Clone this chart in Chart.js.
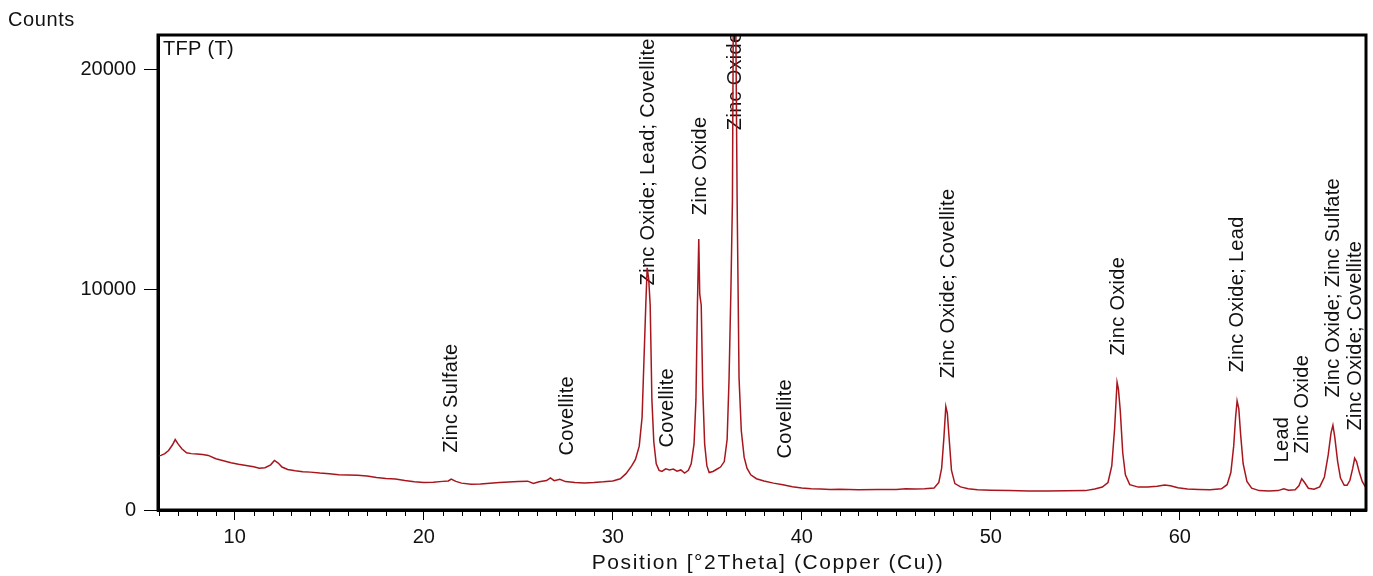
<!DOCTYPE html>
<html>
<head>
<meta charset="utf-8">
<title>TFP (T)</title>
<script src="https://cdn.jsdelivr.net/npm/chart.js@4/dist/chart.umd.min.js"></script>
<style>
html, body { margin: 0; padding: 0; background: #fff; }
</style>
</head>
<body>
<canvas id="xrd" width="1373" height="576"></canvas>
<script>
//SCAN DATA
var angle = [
    5.94, 6.1, 6.3, 6.5, 6.7, 6.85, 7.0, 7.2, 7.45, 7.7, 8.0, 8.3, 8.6, 9.0, 9.4, 9.8,
    10.2, 10.6, 11.0, 11.3, 11.6, 11.9, 12.1, 12.3, 12.5, 12.8, 13.2, 13.6, 14.0, 14.5,
    15.0, 15.5, 16.0, 16.5, 17.0, 17.5, 18.0, 18.5, 19.0, 19.5, 20.0, 20.5, 21.0, 21.3,
    21.45, 21.7, 22.0, 22.5, 23.0, 23.5, 24.0, 24.5, 25.0, 25.5, 25.8, 26.1, 26.5, 26.7,
    26.9, 27.2, 27.5, 28.0, 28.5, 29.0, 29.5, 30.0, 30.4, 30.7, 31.0, 31.2, 31.4, 31.55,
    31.65, 31.75, 31.82, 31.9, 31.98, 32.07, 32.17, 32.3, 32.45, 32.6, 32.8, 33.0, 33.2,
    33.4, 33.6, 33.8, 34.0, 34.15, 34.3, 34.4, 34.48, 34.55, 34.6, 34.68, 34.76, 34.86,
    34.98, 35.1, 35.3, 35.5, 35.7, 35.9, 36.05, 36.15, 36.25, 36.33, 36.38, 36.5, 36.58,
    36.68, 36.8, 36.95, 37.1, 37.3, 37.6, 38.0, 38.5, 39.0, 39.5, 40.0, 40.5, 41.0, 41.5,
    42.0, 43.0, 44.0, 45.0, 45.5, 46.0, 46.5, 47.0, 47.25, 47.4, 47.52, 47.62, 47.7, 47.8,
    47.92, 48.1, 48.4, 48.8, 49.3, 50.0, 51.0, 52.0, 53.0, 54.0, 55.0, 55.5, 55.9, 56.2,
    56.4, 56.55, 56.68, 56.75, 56.85, 56.98, 57.12, 57.35, 57.8, 58.3, 58.8, 59.2, 59.5,
    59.9, 60.4, 61.0, 61.6, 62.2, 62.5, 62.7, 62.85, 62.95, 63.03, 63.12, 63.22, 63.35,
    63.55, 63.8, 64.2, 64.7, 65.2, 65.5, 65.75, 66.1, 66.3, 66.45, 66.6, 66.8, 67.1, 67.4,
    67.65, 67.85, 68.0, 68.1, 68.2, 68.35, 68.5, 68.7, 68.85, 69.0, 69.15, 69.25, 69.35,
    69.5, 69.65, 69.85
];
var counts = [
    2450, 2480, 2560, 2700, 2950, 3200, 3000, 2780, 2600, 2560, 2540, 2520, 2480, 2330, 2240, 2150,
    2080, 2020, 1960, 1900, 1920, 2050, 2250, 2130, 1950, 1840, 1780, 1740, 1720, 1680,
    1650, 1600, 1590, 1580, 1540, 1480, 1430, 1410, 1340, 1280, 1250, 1260, 1300, 1320,
    1400, 1300, 1220, 1170, 1180, 1220, 1250, 1270, 1290, 1310, 1210, 1280, 1340, 1460,
    1330, 1390, 1290, 1250, 1230, 1250, 1280, 1320, 1420, 1650, 2000, 2300, 2900, 4200,
    6800, 9400, 11000, 10500, 9300, 5000, 3100, 2100, 1800, 1750, 1870, 1820, 1860,
    1760, 1820, 1680, 1800, 2100, 3000, 5000, 9400, 12300, 9800, 9300, 5500, 3000,
    2000, 1700, 1750, 1850, 1950, 2200, 3200, 5900, 10000, 14000, 23000, 23000, 14000,
    6000, 3600, 2400, 1900, 1600, 1420, 1320, 1220, 1150, 1060, 1000, 970, 950, 930,
    940, 920, 930, 930, 960, 950, 970, 1000, 1250, 1900, 3300, 4700, 4400, 3200,
    1800, 1200, 1050, 970, 920, 900, 880, 860, 860, 870, 880, 950, 1040, 1250,
    2000, 3700, 5800, 5500, 4500, 2600, 1600, 1150, 1040, 1040, 1080, 1130, 1100,
    1010, 950, 930, 920, 960, 1150, 1700, 2900, 4200, 4950, 4600, 3400, 2100,
    1300, 990, 880, 860, 880, 960, 900, 920, 1100, 1420, 1250, 990, 940, 1050,
    1500, 2500, 3500, 3850, 3300, 2200, 1450, 1120, 1120, 1350, 1900, 2350, 2200,
    1700, 1300, 1000
];

//PHASE LABELS
var peakAngle = [21.49, 27.58, 31.87, 32.87, 34.62, 36.47, 39.12, 47.75, 56.75, 63.06, 65.44, 66.5, 68.14, 69.3];
var peakBase = [2600, 2480, 10200, 2840, 13390, 17250, 2340, 5980, 7020, 6250, 2160, 2570, 5110, 3610];
var peakName = [
    'Zinc Sulfate', 'Covellite', 'Zinc Oxide; Lead; Covellite', 'Covellite', 'Zinc Oxide',
    'Zinc Oxide', 'Covellite', 'Zinc Oxide; Covellite', 'Zinc Oxide', 'Zinc Oxide; Lead',
    'Lead', 'Zinc Oxide', 'Zinc Oxide; Zinc Sulfate', 'Zinc Oxide; Covellite'
];

//AXES
var xTicks = [10, 20, 30, 40, 50, 60];
var yTicks = [0, 10000, 20000];
var xMin = 5.94, xMax = 69.85, yMax = 21570;
var xTitle = 'Position [°2Theta] (Copper (Cu))';

var fontFamily = '"Liberation Sans", Arial, sans-serif';
Chart.defaults.font.family = fontFamily;
Chart.defaults.font.size = 20;
Chart.defaults.color = '#111';

var scanPoints = [];
for (var i = 0; i < angle.length; i++) {
    scanPoints.push({x: angle[i], y: counts[i]});
}

var xrdDecor = {
    id: 'xrdDecor',
    beforeDatasetsDraw: function (chart) {
        var ctx = chart.ctx, a = chart.chartArea;
        var xs = chart.scales.x, ys = chart.scales.y;
        ctx.save();
        ctx.beginPath();
        ctx.rect(a.left, a.top, a.right - a.left, a.bottom - a.top);
        ctx.clip();
        ctx.font = '20px ' + fontFamily;
        ctx.fillStyle = '#111';
        ctx.textAlign = 'left';
        ctx.textBaseline = 'middle';
        ctx.letterSpacing = '0.3px';
        for (var i = 0; i < peakName.length; i++) {
            ctx.save();
            ctx.translate(xs.getPixelForValue(peakAngle[i]), ys.getPixelForValue(peakBase[i]));
            ctx.rotate(-Math.PI / 2);
            ctx.fillText(peakName[i], 0, 0);
            ctx.restore();
        }
        ctx.fillText('TFP (T)', a.left + 5, a.top + 14);
        ctx.restore();
    },
    afterDraw: function (chart) {
        var ctx = chart.ctx, a = chart.chartArea, xs = chart.scales.x;
        ctx.save();
        //frame
        ctx.strokeStyle = '#000';
        ctx.lineWidth = 3;
        ctx.strokeRect(a.left, a.top, a.right - a.left, a.bottom - a.top);
        //minor ticks every degree
        ctx.lineWidth = 1;
        ctx.beginPath();
        for (var v = Math.ceil(xMin); v <= xMax; v++) {
            if (v % 10 === 0) continue;
            var px = Math.round(xs.getPixelForValue(v)) + 0.5;
            ctx.moveTo(px, a.bottom);
            ctx.lineTo(px, a.bottom + 6);
        }
        ctx.stroke();
        //titles
        ctx.font = '20px ' + fontFamily;
        ctx.fillStyle = '#111';
        ctx.textBaseline = 'middle';
        ctx.textAlign = 'left';
        ctx.letterSpacing = '0.6px';
        ctx.fillText('Counts', 8, 20);
        ctx.font = '21px ' + fontFamily;
        ctx.letterSpacing = '1.6px';
        var w = ctx.measureText(xTitle).width;
        ctx.fillText(xTitle, 768 - w / 2, 563);
        ctx.restore();
    }
};

var ctx = document.getElementById('xrd').getContext('2d');
var xrdChart = new Chart(ctx, {
    type: 'scatter',
    data: {
        datasets: [{
            label: 'TFP (T)',
            data: scanPoints,
            showLine: true,
            borderColor: '#a8161d',
            borderWidth: 1.5,
            pointRadius: 0,
            tension: 0
        }]
    },
    options: {
        responsive: false,
        animation: false,
        layout: {padding: {top: 35, right: 7, left: 0, bottom: 0}},
        plugins: {
            legend: {display: false},
            tooltip: {enabled: false}
        },
        scales: {
            x: {
                type: 'linear',
                min: xMin,
                max: xMax,
                afterFit: function (scale) { scale.height = 66; },
                afterBuildTicks: function (scale) {
                    scale.ticks = xTicks.map(function (v) { return {value: v}; });
                },
                ticks: {padding: 5, maxRotation: 0, color: '#111'},
                grid: {drawOnChartArea: false, tickLength: 10, color: '#000', tickWidth: 1},
                border: {display: true, color: '#000', width: 3}
            },
            y: {
                min: 0,
                max: yMax,
                afterFit: function (scale) { scale.width = 158; },
                afterBuildTicks: function (scale) {
                    scale.ticks = yTicks.map(function (v) { return {value: v}; });
                },
                ticks: {
                    padding: 8,
                    color: '#111',
                    callback: function (v) { return String(v); }
                },
                grid: {drawOnChartArea: false, tickLength: 14, color: '#000', tickWidth: 1},
                border: {display: true, color: '#000', width: 3}
            }
        }
    },
    plugins: [xrdDecor]
});
</script>
</body>
</html>
